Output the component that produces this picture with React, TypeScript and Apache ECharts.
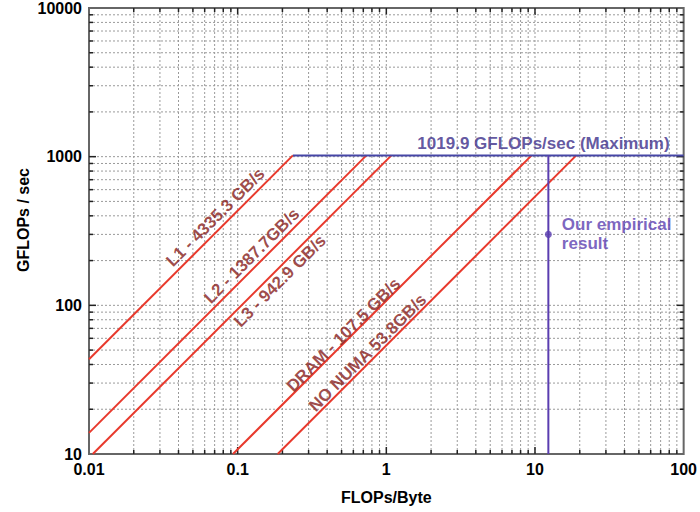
import React, { useEffect, useRef } from 'react';
import * as echarts from 'echarts';

// Axis ranges
const X_MIN = 0.01;
const X_MAX = 100;
const Y_MIN = 10;
const Y_MAX = 10000;

// Grid / tick values (decade starts and mantissas)
const xDecades = [0.01, 0.1, 1, 10];
const yDecades = [10, 100, 1000];
const mantissas = [1, 2, 3, 4, 5, 6, 7, 8, 9];
const xTickLabels = ['0.01', '0.1', '1', '10', '100'];
const yTickLabels = ['10', '100', '1000', '10000'];

// Roofline data
const peakGflops = 1019.9;
const roofNames = ['L1', 'L2', 'L3', 'DRAM', 'NO NUMA'];
const roofBandwidths = [4335.3, 1387.7, 942.9, 107.5, 53.8];
const roofLabels = [
  'L1 - 4335.3 GB/s',
  'L2 - 1387.7GB/s',
  'L3 - 942.9 GB/s',
  'DRAM - 107.5 GB/s',
  'NO NUMA 53.8GB/s',
];
const peakLabel = '1019.9 GFLOPs/sec (Maximum)';

// Empirical measurement
const empiricalIntensity = 12.3;
const empiricalGflops = 300;
const empiricalLabel = 'Our empirical\nresult';

// Label layout (where along each roof line, and perpendicular shift in px)
const labelAtX = [0.080, 0.139, 0.1726, 0.551, 0.818];
const labelShift = [11, 10, -10, 6, 8];

const FONT = '"Liberation Sans", Arial, Helvetica, sans-serif';
const RED = '#e8392c';
const LABEL_RED = '#861c1a';
const ROOF_BLUE = '#4646a6';
const EMP_PURPLE = '#5a3db0';
const PEAK_TEXT = '#3a2c88';

function nearestLabel(v: number, vals: number[], labels: string[]) {
  let best = 0;
  let bd = Infinity;
  vals.forEach((t, i) => {
    const d = Math.abs(Math.log10(v) - Math.log10(t));
    if (d < bd) {
      bd = d;
      best = i;
    }
  });
  return bd < 0.01 ? labels[best] : '';
}

export default function App() {
  const ref = useRef<HTMLDivElement>(null);

  useEffect(() => {
    if (!ref.current) return;
    const chart = echarts.init(ref.current, null, { renderer: 'svg' });

    const xTickVals = [...xDecades, X_MAX];
    const yTickVals = [...yDecades, Y_MAX];

    // grid & tick items: [x, y, kind(0 vertical / 1 horizontal), major]
    const gridData: number[][] = [];
    xDecades.forEach((d) =>
      mantissas.forEach((m) => {
        const v = d * m;
        if (v > X_MIN * 1.0001 && v < X_MAX * 0.9999) gridData.push([v, Y_MIN, 0, m === 1 ? 1 : 0]);
      })
    );
    yDecades.forEach((d) =>
      mantissas.forEach((m) => {
        const v = d * m;
        if (v > Y_MIN * 1.0001 && v < Y_MAX * 0.9999) gridData.push([X_MIN, v, 1, m === 1 ? 1 : 0]);
      })
    );

    const roofSeries = roofBandwidths.map((bw, i) => {
      const x0 = Math.max(X_MIN, Y_MIN / bw);
      const x1 = peakGflops / bw;
      return {
        name: roofNames[i],
        type: 'line',
        data: [
          [x0, bw * x0],
          [x1, peakGflops],
        ],
        showSymbol: false,
        symbol: 'none',
        lineStyle: { color: RED, width: 2 },
        z: 3,
        silent: true,
      };
    });

    const labelItem = (value: number[], i: number) => ({
      value,
      label: {
        show: true,
        formatter: roofLabels[i],
        position: 'inside',
        align: 'center',
        verticalAlign: 'middle',
        rotate: 45,
        color: LABEL_RED,
        fontSize: 17,
        fontWeight: 'bold',
        fontFamily: FONT,
      },
    });

    const option: any = {
      animation: false,
      backgroundColor: '#fff',
      textStyle: { fontFamily: FONT },
      grid: {
        left: 89,
        right: 16,
        top: 8,
        bottom: 58,
        show: true,
        borderColor: '#666',
        borderWidth: 2,
        backgroundColor: 'transparent',
      },
      xAxis: {
        type: 'log',
        logBase: 10,
        min: X_MIN,
        max: X_MAX,
        splitNumber: 4,
        axisLine: { show: false },
        axisTick: { show: false },
        splitLine: { show: false },
        axisLabel: {
          margin: 7,
          fontSize: 16,
          fontWeight: 'bold',
          color: '#000',
          fontFamily: FONT,
          formatter: (v: number) => nearestLabel(v, xTickVals, xTickLabels),
        },
        name: 'FLOPs/Byte',
        nameLocation: 'middle',
        nameGap: 35,
        nameTextStyle: { fontSize: 16, fontWeight: 'bold', color: '#000', fontFamily: FONT },
      },
      yAxis: {
        type: 'log',
        logBase: 10,
        min: Y_MIN,
        max: Y_MAX,
        splitNumber: 3,
        axisLine: { show: false },
        axisTick: { show: false },
        splitLine: { show: false },
        axisLabel: {
          margin: 7,
          fontSize: 16,
          fontWeight: 'bold',
          color: '#000',
          fontFamily: FONT,
          formatter: (v: number) => nearestLabel(v, yTickVals, yTickLabels),
        },
      },
      graphic: [
        {
          type: 'text',
          x: 23,
          y: 220,
          rotation: Math.PI / 2,
          style: {
            text: 'GFLOPs / sec',
            fontSize: 16,
            fontWeight: 'bold',
            fontFamily: FONT,
            fill: '#000',
            align: 'center',
            verticalAlign: 'middle',
          },
        },
      ],
      series: [
        {
          type: 'custom',
          data: gridData,
          silent: true,
          z: 1,
          encode: { x: 0, y: 1 },
          renderItem: (params: any, api: any) => {
            const kind = api.value(2);
            const major = api.value(3) === 1;
            const len = major ? 7 : 4;
            const dash = { stroke: '#9a9a9a', lineWidth: 1, lineDash: [2, 2] };
            const tick = { stroke: '#222', lineWidth: 1.5 };
            if (kind === 0) {
              const x = api.value(0);
              const b = api.coord([x, Y_MIN]);
              const t = api.coord([x, Y_MAX]);
              return {
                type: 'group',
                children: [
                  { type: 'line', shape: { x1: b[0], y1: b[1], x2: t[0], y2: t[1] }, style: dash },
                  { type: 'line', shape: { x1: b[0], y1: b[1], x2: b[0], y2: b[1] - len }, style: tick },
                  { type: 'line', shape: { x1: t[0], y1: t[1], x2: t[0], y2: t[1] + len }, style: tick },
                ],
              };
            }
            const y = api.value(1);
            const l = api.coord([X_MIN, y]);
            const r = api.coord([X_MAX, y]);
            return {
              type: 'group',
              children: [
                { type: 'line', shape: { x1: l[0], y1: l[1], x2: r[0], y2: r[1] }, style: dash },
                { type: 'line', shape: { x1: l[0], y1: l[1], x2: l[0] + len, y2: l[1] }, style: tick },
                { type: 'line', shape: { x1: r[0], y1: r[1], x2: r[0] - len, y2: r[1] }, style: tick },
              ],
            };
          },
        },
        ...roofSeries,
        {
          name: 'Peak',
          type: 'line',
          data: [
            [peakGflops / roofBandwidths[0], peakGflops],
            [X_MAX, peakGflops],
          ],
          showSymbol: false,
          symbol: 'none',
          lineStyle: { color: ROOF_BLUE, width: 2 },
          z: 4,
          silent: true,
        },
        {
          name: 'Empirical line',
          type: 'line',
          data: [
            [empiricalIntensity, Y_MIN],
            [empiricalIntensity, peakGflops],
          ],
          showSymbol: false,
          symbol: 'none',
          lineStyle: { color: EMP_PURPLE, width: 2 },
          z: 4,
          silent: true,
        },
        {
          name: 'Empirical',
          type: 'scatter',
          data: [[empiricalIntensity, empiricalGflops]],
          symbolSize: 7,
          itemStyle: { color: EMP_PURPLE },
          z: 5,
          silent: true,
          label: {
            show: true,
            formatter: empiricalLabel,
            position: 'right',
            distance: 10,
            align: 'left',
            verticalAlign: 'middle',
            color: EMP_PURPLE,
            fontSize: 17,
            fontWeight: 'bold',
            lineHeight: 19,
            fontFamily: FONT,
          },
        },
        {
          name: 'Peak label',
          type: 'scatter',
          data: [[X_MAX, peakGflops]],
          symbolSize: 1,
          itemStyle: { color: 'transparent' },
          z: 5,
          silent: true,
          label: {
            show: true,
            formatter: peakLabel,
            position: 'inside',
            align: 'right',
            verticalAlign: 'middle',
            offset: [-14, -12],
            color: PEAK_TEXT,
            fontSize: 17,
            fontWeight: 'bold',
            fontFamily: FONT,
          },
        },
        {
          id: 'roofLabels',
          name: 'Roof labels',
          type: 'scatter',
          symbolSize: 1,
          itemStyle: { color: 'transparent' },
          z: 5,
          silent: true,
          data: [],
        },
      ],
    };

    chart.setOption(option);

    // Place rotated labels: a point on each roof line, shifted perpendicular (in px)
    const labelData = roofBandwidths.map((bw, i) => {
      const x = labelAtX[i];
      const p = chart.convertToPixel({ gridIndex: 0 }, [x, bw * x]) as number[];
      const s = labelShift[i] / Math.SQRT2;
      const c = [p[0] - s, p[1] - s];
      const v = chart.convertFromPixel({ gridIndex: 0 }, c) as number[];
      return labelItem(v, i);
    });
    chart.setOption({ series: [{ id: 'roofLabels', data: labelData }] });

    return () => chart.dispose();
  }, []);

  return (
    <div
      ref={ref}
      style={{ position: 'fixed', left: 0, top: 0, width: 700, height: 512, background: '#fff' }}
    />
  );
}
